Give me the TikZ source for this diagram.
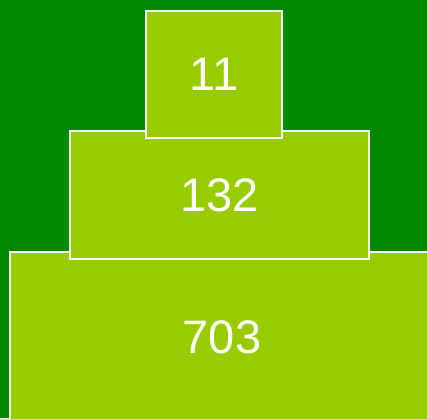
\documentclass[tikz,border=0pt]{standalone}
\usepackage{fontspec}
\setmainfont{Liberation Sans}
\definecolor{bggreen}{HTML}{008800}
\definecolor{boxgreen}{HTML}{99CC00}
\tikzset{
  tier/.style={draw=white, fill=boxgreen, line width=2pt, inner sep=0pt,
    text=white, font=\fontsize{47}{50}\selectfont},
}
\begin{document}
\begin{tikzpicture}[x=1pt,y=1pt]
\useasboundingbox (0,0) rectangle (427,418);
\clip (0,0) rectangle (427,418);
\fill[bggreen] (0,0) rectangle (427,418);
\node[tier, minimum width=424, minimum height=170] (base) at (222,81) {703};
\node[tier, minimum width=299, minimum height=128] (mid) at (219.5,223) {132};
\node[tier, minimum width=136, minimum height=127] (top) at (214,343.5) {11};
\end{tikzpicture}
\end{document}
